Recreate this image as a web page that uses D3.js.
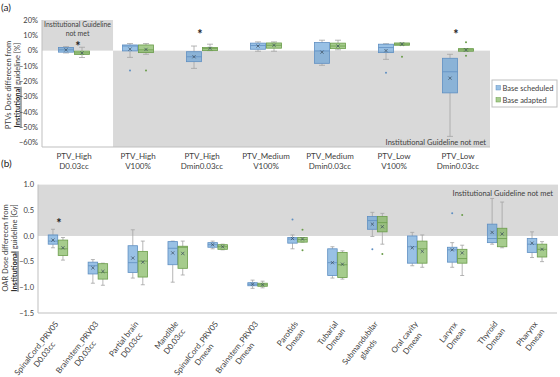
<!DOCTYPE html>
<html>
<head>
<meta charset="utf-8">
<script src="https://cdn.jsdelivr.net/npm/d3@7"></script>
<style>
  body { margin: 0; background: #fff; }
  svg { font-family: Lato, "Open Sans", sans-serif; }
</style>
</head>
<body>
<svg id="chart" width="560" height="377"></svg>
<script>
// ---- Panel (a): PTV dose difference from guideline (fraction) ----
const ptvCats = [
  ["PTV_High", "D0.03cc"], ["PTV_High", "V100%"], ["PTV_High", "Dmin0.03cc"],
  ["PTV_Medium", "V100%"], ["PTV_Medium", "Dmin0.03cc"],
  ["PTV_Low", "V100%"], ["PTV_Low", "Dmin0.03cc"]
];
// each row: [min, q1, median, q3, max, mean]
const ptvScheduled = [
  [-0.015, -0.010, 0.005, 0.020, 0.026, 0.005],
  [-0.044, -0.002, 0.030, 0.037, 0.046, 0.010],
  [-0.116, -0.072, -0.040, -0.007, 0.030, -0.040],
  [-0.004, 0.009, 0.033, 0.049, 0.057, 0.030],
  [-0.096, -0.083, -0.002, 0.053, 0.068, -0.010],
  [-0.057, -0.013, 0.020, 0.042, 0.045, 0.000],
  [-0.560, -0.276, -0.138, -0.050, -0.024, -0.180]
];
const ptvAdapted = [
  [-0.045, -0.025, -0.015, -0.003, 0.022, -0.015],
  [-0.024, -0.013, 0.005, 0.037, 0.046, 0.008],
  [0.000, 0.000, 0.013, 0.020, 0.042, 0.015],
  [-0.004, 0.016, 0.035, 0.050, 0.057, 0.035],
  [0.005, 0.013, 0.030, 0.049, 0.068, 0.030],
  [0.035, 0.035, 0.042, 0.050, 0.050, 0.042],
  [-0.004, -0.004, 0.005, 0.013, 0.013, 0.005]
];
const ptvScheduledOutliers = [[], [-0.13], [], [], [], [-0.145], []];
const ptvAdaptedOutliers = [[], [-0.13], [], [], [], [-0.04], [0.055, -0.033]];
const ptvSignificant = [0.045, null, 0.12, null, null, null, 0.12];
const ptvTicks = [0.2, 0.1, 0, -0.1, -0.2, -0.3, -0.4, -0.5, -0.6];

// ---- Panel (b): OAR dose difference from guideline (Gy) ----
const oarCats = [
  ["SpinalCord_PRV05", "D0.03cc"], ["Brainstem_PRV03", "D0.03cc"], ["Partial brain", "D0.03cc"],
  ["Mandible", "D0.03cc"], ["SpinalCord_PRV05", "Dmean"], ["Brainstem_PRV03", "Dmean"],
  ["Parotids", "Dmean"], ["Tubarial", "Dmean"], ["Submandubilar", "glands"],
  ["Oral cavity", "Dmean"], ["Larynx", "Dmean"], ["Thyroid", "Dmean"], ["Pharynx", "Dmean"]
];
const oarScheduled = [
  [-0.23, -0.16, -0.10, 0.02, 0.13, -0.08],
  [-0.92, -0.74, -0.58, -0.51, -0.46, -0.62],
  [-0.82, -0.71, -0.52, -0.19, 0.12, -0.43],
  [-0.90, -0.56, -0.24, -0.11, -0.10, -0.33],
  [-0.25, -0.22, -0.17, -0.13, -0.10, -0.17],
  [-1.02, -0.97, -0.94, -0.91, -0.86, -0.94],
  [-0.25, -0.14, -0.06, -0.03, 0.02, -0.05],
  [-0.82, -0.77, -0.52, -0.25, -0.21, -0.52],
  [-0.01, 0.13, 0.30, 0.38, 0.46, 0.23],
  [-0.58, -0.53, -0.21, 0.00, 0.07, -0.23],
  [-0.61, -0.51, -0.27, -0.22, -0.13, -0.27],
  [-0.16, -0.13, -0.05, 0.23, 0.73, 0.07],
  [-0.42, -0.32, -0.16, -0.05, 0.08, -0.14]
];
const oarAdapted = [
  [-0.47, -0.38, -0.25, -0.08, -0.03, -0.23],
  [-0.96, -0.84, -0.71, -0.54, -0.53, -0.69],
  [-0.95, -0.80, -0.49, -0.30, -0.10, -0.51],
  [-0.76, -0.63, -0.22, -0.20, -0.10, -0.34],
  [-0.27, -0.26, -0.21, -0.17, -0.16, -0.21],
  [-1.01, -0.98, -0.95, -0.92, -0.88, -0.95],
  [-0.12, -0.12, -0.07, -0.03, -0.03, -0.06],
  [-0.84, -0.81, -0.56, -0.32, -0.29, -0.55],
  [-0.16, 0.08, 0.26, 0.38, 0.44, 0.18],
  [-0.61, -0.53, -0.25, -0.10, 0.02, -0.30],
  [-0.77, -0.53, -0.44, -0.26, -0.18, -0.33],
  [-0.23, -0.21, -0.05, 0.15, 0.66, 0.04],
  [-0.50, -0.41, -0.26, -0.16, -0.11, -0.26]
];
const oarScheduledOutliers = [[], [], [], [], [], [], [0.32], [], [-0.26], [], [0.44], [], []];
const oarAdaptedOutliers = [[], [], [], [], [], [], [0.12, -0.28], [], [-0.35], [], [0.41], [], []];
const oarSignificant = [0.3, null, null, null, null, null, null, null, null, null, null, null, null];
const oarTicks = [1.0, 0.5, 0.0, -0.5, -1.0, -1.5];

const seriesNames = ["Base scheduled", "Base adapted"];

// ---- Styling ----
const COLORS = {
  fill: ["rgba(91,155,213,0.62)", "rgba(112,173,71,0.62)"],
  stroke: ["#5f8fc2", "#6a9c4a"],
  whisker: "#a3a3a3",
  shade: "#d9d9d9",
  axis: "#bfbfbf",
  text: "#404040"
};

const svg = d3.select("#chart");

function drawBoxes(g, x, y, seriesList, outlierList, boxW, offset, capW) {
  seriesList.forEach((series, si) => {
    const dx = si === 0 ? -offset : offset;
    series.forEach((s, i) => {
      const [mn, q1, md, q3, mx, mean] = s;
      const cx = x(i) + x.bandwidth() / 2 + dx;
      const bg = g.append("g");
      // whiskers
      bg.append("line").attr("x1", cx).attr("x2", cx).attr("y1", y(mx)).attr("y2", y(q3))
        .attr("stroke", COLORS.whisker).attr("stroke-width", 0.8);
      bg.append("line").attr("x1", cx).attr("x2", cx).attr("y1", y(q1)).attr("y2", y(mn))
        .attr("stroke", COLORS.whisker).attr("stroke-width", 0.8);
      [mn, mx].forEach(v => {
        bg.append("line").attr("x1", cx - capW / 2).attr("x2", cx + capW / 2)
          .attr("y1", y(v)).attr("y2", y(v))
          .attr("stroke", COLORS.whisker).attr("stroke-width", 0.8);
      });
      // box
      bg.append("rect")
        .attr("x", cx - boxW / 2).attr("width", boxW)
        .attr("y", y(q3)).attr("height", Math.max(1.5, y(q1) - y(q3)))
        .attr("fill", COLORS.fill[si]).attr("stroke", COLORS.stroke[si]).attr("stroke-width", 0.8);
      bg.append("line").attr("x1", cx - boxW / 2).attr("x2", cx + boxW / 2)
        .attr("y1", y(md)).attr("y2", y(md))
        .attr("stroke", COLORS.stroke[si]).attr("stroke-width", 0.8);
      // mean marker
      const m = 1.6;
      bg.append("path")
        .attr("d", `M${cx - m},${y(mean) - m}L${cx + m},${y(mean) + m}M${cx - m},${y(mean) + m}L${cx + m},${y(mean) - m}`)
        .attr("stroke", "#3a4a5a").attr("stroke-width", 0.7);
      // outliers
      outlierList[si][i].forEach(v => {
        bg.append("circle").attr("cx", cx).attr("cy", y(v)).attr("r", 1)
          .attr("fill", COLORS.stroke[si]);
      });
    });
  });
}

function yTitle(g, cx1, cx2, cy, line1, unit) {
  g.append("text").attr("transform", `translate(${cx1},${cy}) rotate(-90)`)
    .attr("dy", "0.35em").attr("text-anchor", "middle").attr("font-size", 7.5)
    .attr("fill", COLORS.text).text(line1);
  const t = g.append("text").attr("transform", `translate(${cx2},${cy}) rotate(-90)`)
    .attr("dy", "0.35em").attr("text-anchor", "middle").attr("font-size", 7.5)
    .attr("fill", COLORS.text);
  t.append("tspan").attr("font-weight", "bold").style("text-decoration", "underline")
    .attr("fill", "#222").text("Institutional");
  t.append("tspan").text(" guideline " + unit);
}

function asterisk(g, x, y) {
  g.append("text").attr("x", x).attr("y", y + 7)
    .attr("text-anchor", "middle").attr("font-size", 12.5).attr("font-weight", "bold")
    .attr("fill", "#222").text("*");
}

// ================= Panel (a) =================
const aLeft = 42, aRight = 490, aTop = 20;
const xA = d3.scaleBand().domain(d3.range(ptvCats.length)).range([aLeft, aRight]);
const yA = d3.scaleLinear().domain([-0.6, 0.2]).range([142.5, aTop]);
const aBottom = yA(-0.6) + 4.5;
const gA = svg.append("g");

// shaded "guideline not met" regions
const splitX = xA(1) + xA.step() * 0.11;
gA.append("rect").attr("x", aLeft).attr("y", aTop)
  .attr("width", splitX - aLeft).attr("height", yA(0) - aTop).attr("fill", COLORS.shade);
gA.append("rect").attr("x", splitX).attr("y", yA(0))
  .attr("width", aRight - splitX).attr("height", aBottom - yA(0)).attr("fill", COLORS.shade);

gA.append("line").attr("x1", aLeft).attr("x2", aLeft).attr("y1", aTop).attr("y2", aBottom)
  .attr("stroke", COLORS.axis);
gA.append("line").attr("x1", aLeft).attr("x2", aRight).attr("y1", aBottom).attr("y2", aBottom)
  .attr("stroke", COLORS.axis);

gA.selectAll("text.ytick").data(ptvTicks).join("text")
  .attr("class", "ytick")
  .attr("x", aLeft - 4).attr("y", d => yA(d)).attr("dy", "0.35em")
  .attr("text-anchor", "end").attr("font-size", 7.5).attr("fill", COLORS.text)
  .text(d => d3.format(".0%")(d));

const catA = gA.selectAll("text.cat").data(ptvCats).join("text")
  .attr("class", "cat")
  .attr("text-anchor", "middle").attr("font-size", 8).attr("fill", COLORS.text);
catA.each(function (d, i) {
  const cx = xA(i) + xA.bandwidth() / 2;
  d3.select(this).append("tspan").attr("x", cx).attr("y", 159).text(d[0]);
  d3.select(this).append("tspan").attr("x", cx).attr("y", 169).text(d[1]);
});

drawBoxes(gA, xA, yA, [ptvScheduled, ptvAdapted],
  [ptvScheduledOutliers, ptvAdaptedOutliers], 15, 8, 6);

ptvSignificant.forEach((v, i) => {
  if (v === null) return;
  asterisk(gA, xA(i) + xA.bandwidth() / 2 + (i === 0 ? 4 : -2), yA(v));
});

gA.append("text").attr("x", (aLeft + splitX) / 2).attr("y", 27)
  .attr("text-anchor", "middle").attr("font-size", 6.9).attr("fill", COLORS.text)
  .text("Institutional Guideline");
gA.append("text").attr("x", (aLeft + splitX) / 2).attr("y", 35.5)
  .attr("text-anchor", "middle").attr("font-size", 6.9).attr("fill", COLORS.text)
  .text("not met");
gA.append("text").attr("x", aRight - 4).attr("y", 145)
  .attr("text-anchor", "end").attr("font-size", 7.5).attr("fill", COLORS.text)
  .text("Institutional Guideline not met");

yTitle(gA, 8, 17, 85, "PTVs Dose differecen from", "[%]");
svg.append("text").attr("x", 1).attr("y", 11).attr("font-size", 10).attr("fill", "#222").text("(a)");

// legend
const leg = svg.append("g");
leg.append("rect").attr("x", 492).attr("y", 80).attr("width", 65).attr("height", 27)
  .attr("fill", "#fff").attr("stroke", COLORS.axis);
seriesNames.forEach((name, i) => {
  leg.append("rect").attr("x", 496).attr("y", 85.5 + i * 12).attr("width", 4.5).attr("height", 4.5)
    .attr("fill", COLORS.fill[i]).attr("stroke", COLORS.stroke[i]).attr("stroke-width", 0.5);
  leg.append("text").attr("x", 502.5).attr("y", 88 + i * 12).attr("dy", "0.35em")
    .attr("font-size", 7.5).attr("fill", COLORS.text).text(name);
});

// ================= Panel (b) =================
const bLeft = 38, bRight = 557, bPlotRight = 558;
const xB = d3.scaleBand().domain(d3.range(oarCats.length)).range([bLeft, bRight]);
const yB = d3.scaleLinear().domain([-1.5, 1.0]).range([313, 184.6]);
const gB = svg.append("g");

gB.append("rect").attr("x", bLeft).attr("y", yB(1.0))
  .attr("width", bPlotRight - bLeft).attr("height", yB(0) - yB(1.0)).attr("fill", COLORS.shade);
gB.append("line").attr("x1", bLeft).attr("x2", bLeft).attr("y1", yB(1.0)).attr("y2", yB(-1.5))
  .attr("stroke", COLORS.axis);
gB.append("line").attr("x1", bLeft).attr("x2", bRight).attr("y1", yB(-1.5)).attr("y2", yB(-1.5))
  .attr("stroke", COLORS.axis);

gB.selectAll("text.ytick").data(oarTicks).join("text")
  .attr("class", "ytick")
  .attr("x", bLeft - 4).attr("y", d => yB(d)).attr("dy", "0.35em")
  .attr("text-anchor", "end").attr("font-size", 7.5).attr("fill", COLORS.text)
  .text(d => d3.format(".1f")(d));

drawBoxes(gB, xB, yB, [oarScheduled, oarAdapted],
  [oarScheduledOutliers, oarAdaptedOutliers], 9.5, 5, 4);

oarSignificant.forEach((v, i) => {
  if (v === null) return;
  asterisk(gB, xB(i) + xB.bandwidth() / 2 + 1, yB(v));
});

gB.append("text").attr("x", 553).attr("y", 193).attr("dy", "0.35em")
  .attr("text-anchor", "end").attr("font-size", 7.5).attr("fill", COLORS.text)
  .text("Institutional Guideline not met");

// rotated category labels
oarCats.forEach((d, i) => {
  const cx = xB(i) + xB.bandwidth() / 2;
  const lg = gB.append("g").attr("transform", `translate(${cx + 1},${yB(-1.5) + 11}) rotate(-52)`);
  const t1 = lg.append("text").attr("font-size", 8).attr("fill", COLORS.text).text(d[0]);
  const t2 = lg.append("text").attr("font-size", 8).attr("fill", COLORS.text).text(d[1]);
  const w = Math.max(t1.node().getComputedTextLength(), t2.node().getComputedTextLength());
  t1.attr("text-anchor", "middle").attr("x", -w / 2).attr("y", 0);
  t2.attr("text-anchor", "middle").attr("x", -w / 2).attr("y", 10);
});

yTitle(gB, 5, 14, 248, "OAR Dose differecen from", "[Gy]");
svg.append("text").attr("x", 1).attr("y", 167).attr("font-size", 10).attr("fill", "#222").text("(b)");
</script>
</body>
</html>
